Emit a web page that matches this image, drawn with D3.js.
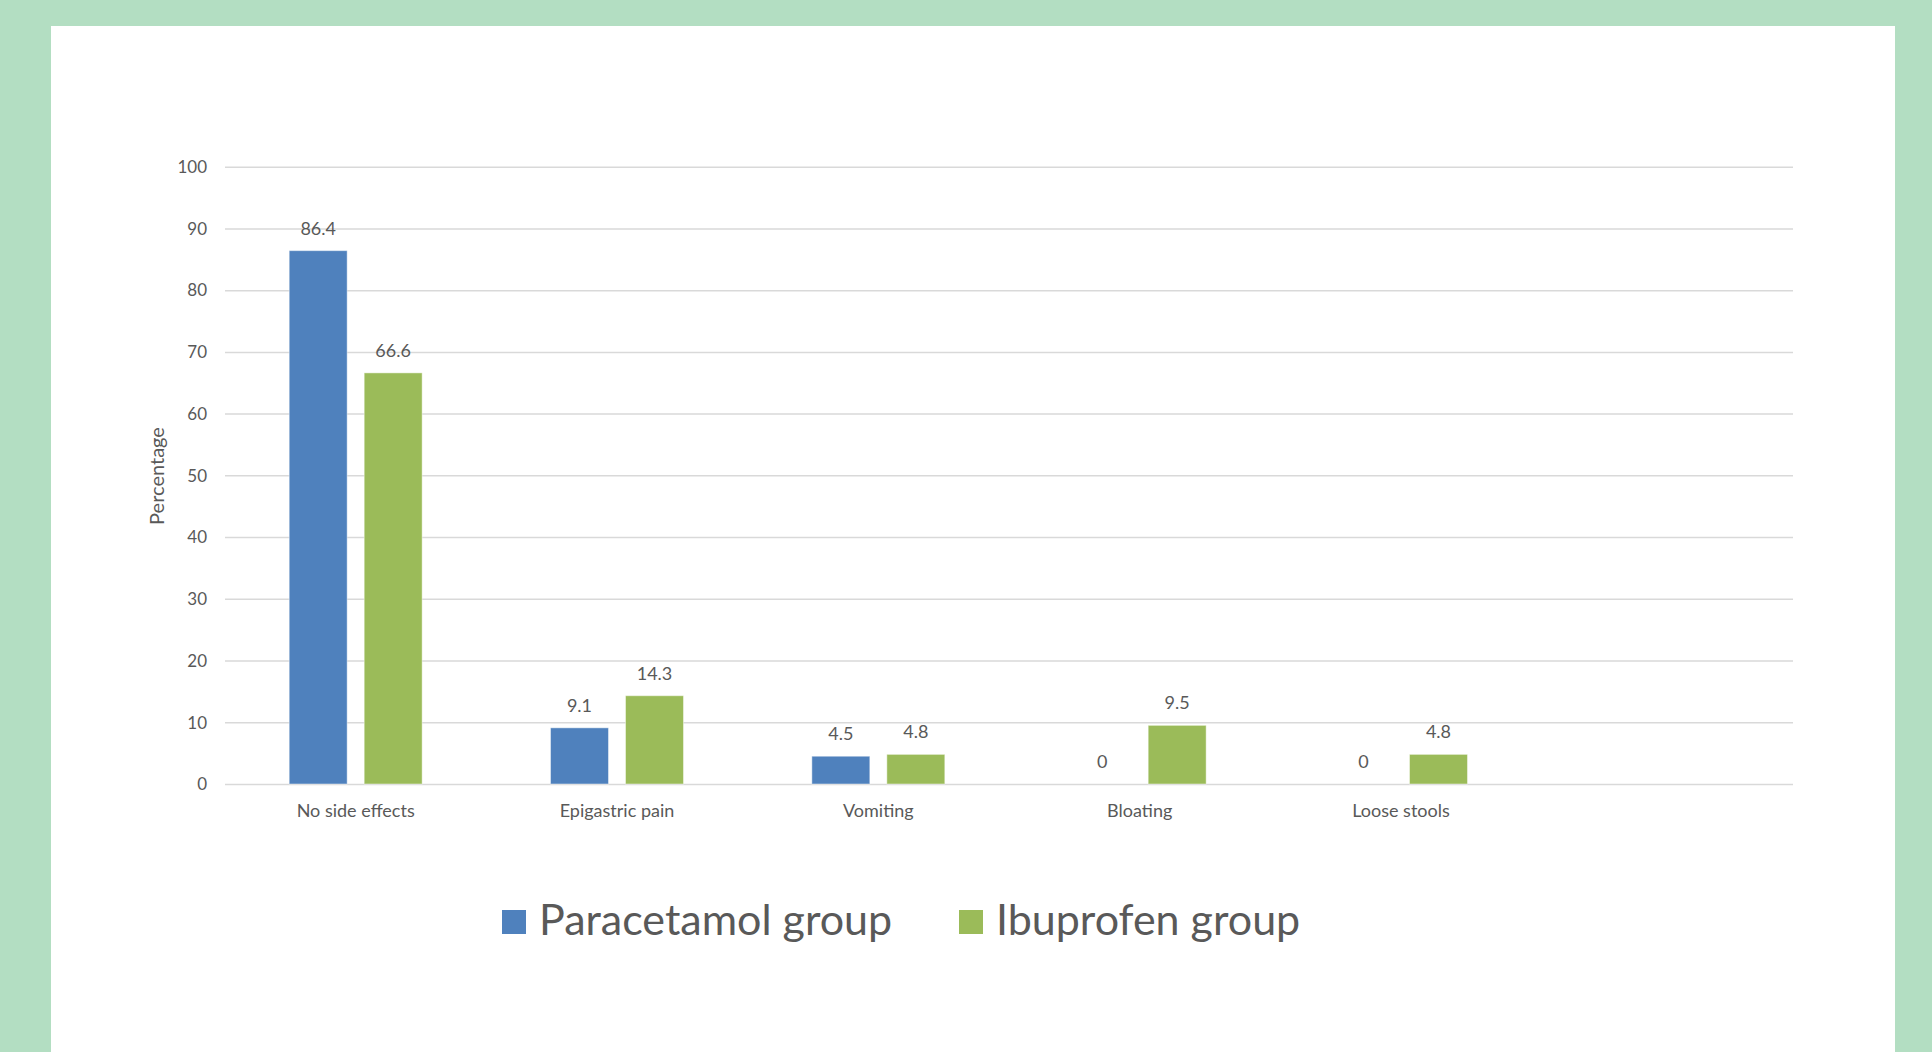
<!DOCTYPE html>
<html>
<head>
<meta charset="utf-8">
<script src="https://cdn.jsdelivr.net/npm/d3@7"></script>
<style>
  html, body { margin: 0; padding: 0; background: #b3dec2; }
  svg { display: block; }
  text { font-family: Lato, "Open Sans", sans-serif; fill: #595959; }
</style>
</head>
<body>
<script>
// Side effects reported in each treatment group (percent of patients)
const categories = ["No side effects", "Epigastric pain", "Vomiting", "Bloating", "Loose stools"];
const seriesNames = ["Paracetamol group", "Ibuprofen group"];
const paracetamol = [86.4, 9.1, 4.5, 0, 0];
const ibuprofen = [66.6, 14.3, 4.8, 9.5, 4.8];
const yTicks = [0, 10, 20, 30, 40, 50, 60, 70, 80, 90, 100];
const colors = ["#4f81bd", "#9bbb59"];

const W = 1932, H = 1052;
const svg = d3.select("body").append("svg").attr("width", W).attr("height", H);

// green frame with white card
svg.append("rect").attr("x", 0).attr("y", 0).attr("width", W).attr("height", H).attr("fill", "#b3dec2");
svg.append("rect").attr("x", 51).attr("y", 26).attr("width", 1844).attr("height", H - 26).attr("fill", "#ffffff");

const plot = { left: 225, right: 1793, top: 166.7, bottom: 784 };
const slot = (plot.right - plot.left) / 6;

const x = d3.scaleBand().domain(categories)
  .range([plot.left, plot.left + slot * categories.length])
  .paddingInner(0).paddingOuter(0);
const x1 = d3.scaleBand().domain(seriesNames)
  .range([0, x.bandwidth()])
  .paddingInner(0.227).paddingOuter(0.856);
const y = d3.scaleLinear().domain([0, 100]).range([plot.bottom, plot.top]);

// horizontal gridlines and value axis labels
const yAxis = d3.axisLeft(y).tickValues(yTicks).tickSize(-(plot.right - plot.left)).tickPadding(18);
const gy = svg.append("g").attr("transform", `translate(${plot.left},0)`).call(yAxis);
gy.select(".domain").remove();
gy.selectAll(".tick line").attr("stroke", "#d9d9d9").attr("stroke-width", 1.5);
gy.selectAll(".tick text").attr("font-size", 17).attr("fill", "#595959")
  .attr("font-family", "Lato, 'Open Sans', sans-serif").attr("dy", "0.34em");

// category axis labels
const xAxis = d3.axisBottom(x).tickSize(0).tickPadding(0);
const gx = svg.append("g").attr("transform", `translate(0,${plot.bottom})`).call(xAxis);
gx.select(".domain").remove();
gx.selectAll(".tick text").attr("font-size", 18).attr("fill", "#595959")
  .attr("font-family", "Lato, 'Open Sans', sans-serif").attr("y", 33).attr("dy", 0);

// grouped bars
const rows = categories.map((c, i) => ({
  cat: c,
  vals: [
    { s: seriesNames[0], v: paracetamol[i], c: colors[0] },
    { s: seriesNames[1], v: ibuprofen[i], c: colors[1] }
  ]
}));

const groups = svg.append("g").selectAll("g").data(rows).join("g")
  .attr("transform", d => `translate(${x(d.cat)},0)`);

groups.selectAll("rect").data(d => d.vals).join("rect")
  .attr("x", d => x1(d.s))
  .attr("width", x1.bandwidth())
  .attr("y", d => y(d.v))
  .attr("height", d => y(0) - y(d.v))
  .attr("fill", d => d.c)
  .attr("stroke", "#ffffff").attr("stroke-opacity", 0.45).attr("stroke-width", 1)
  .attr("display", d => d.v > 0 ? null : "none");

groups.selectAll("text.val").data(d => d.vals).join("text")
  .attr("class", "val")
  .attr("x", d => x1(d.s) + x1.bandwidth() / 2)
  .attr("y", d => y(d.v) - 16)
  .attr("text-anchor", "middle")
  .attr("font-size", 18)
  .text(d => String(d.v));

// axis title
svg.append("text")
  .attr("transform", `translate(164,476) rotate(-90)`)
  .attr("text-anchor", "middle")
  .attr("font-size", 20)
  .text("Percentage");

// legend
const legendItems = [
  { name: seriesNames[0], color: colors[0], x: 502 },
  { name: seriesNames[1], color: colors[1], x: 959 }
];
const lg = svg.append("g").selectAll("g").data(legendItems).join("g")
  .attr("transform", d => `translate(${d.x},910)`);
lg.append("rect").attr("width", 24).attr("height", 24).attr("fill", d => d.color);
lg.append("text").attr("x", 37).attr("y", 25).attr("font-size", 43).text(d => d.name);
</script>
</body>
</html>
